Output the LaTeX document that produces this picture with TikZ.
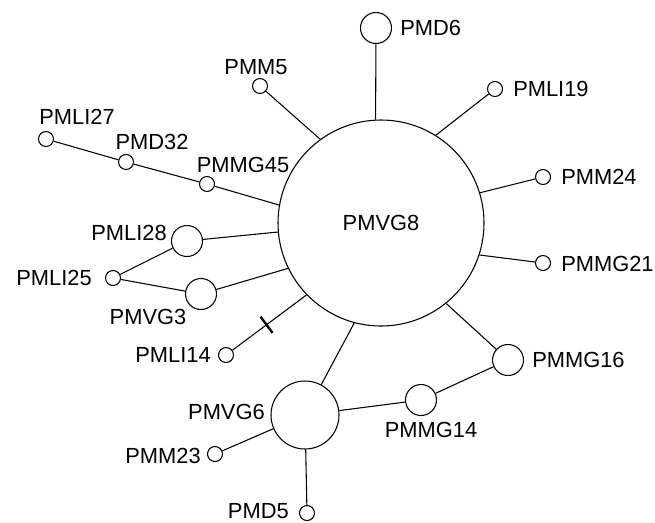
\documentclass[tikz,border=0pt]{standalone}
\usepackage{fontspec}
\setmainfont{Liberation Sans}
\begin{document}
\begin{tikzpicture}[x=0.75pt,y=-0.75pt,
  every node/.style={inner sep=0pt},
  hap/.style={circle,draw,line width=0.8pt,fill=white},
  small/.style={hap,minimum size=11.25pt},
  mid/.style={hap,minimum size=23.25pt},
  lbl/.style={font=\fontsize{16.4}{20}\selectfont},
  link/.style={line width=0.8pt}]
\useasboundingbox (0,0) rectangle (655,522);
% haplotype circles
\node[hap,minimum size=154.5pt] (PMVG8) at (381,223) {};
\node[mid] (PMD6) at (376,28) {};
\node[small] (PMLI19) at (495,89) {};
\node[small] (PMM24) at (543,177) {};
\node[small] (PMMG21) at (543,263) {};
\node[mid] (PMMG16) at (508,360) {};
\node[mid] (PMMG14) at (421,400) {};
\node[hap,minimum size=51pt] (PMVG6) at (305,415) {};
\node[small] (PMM23) at (215,454) {};
\node[small] (PMD5) at (307,513) {};
\node[small] (PMLI14) at (226,355) {};
\node[mid] (PMVG3) at (201,294) {};
\node[small] (PMLI25) at (113,278) {};
\node[mid] (PMLI28) at (187,241) {};
\node[small] (PMMG45) at (207,184) {};
\node[small] (PMD32) at (126,162) {};
\node[small] (PMLI27) at (46,139) {};
\node[small] (PMM5) at (260,86) {};
% connectors
\draw[link] (PMVG8.93) -- (PMD6);
\draw[link] (PMVG8.58.5) -- (PMLI19);
\draw[link] (PMVG8.17) -- (PMM24);
\draw[link] (PMVG8.-18.8) -- (PMMG21);
\draw[link] (PMVG8.-51.3) -- (PMMG16);
\draw[link] (PMVG8.-105) -- (PMVG6);
\draw[link] (PMVG8.224.2) -- node[pos=0.54,sloped,fill=black,minimum width=1.8pt,minimum height=15pt]{} (PMLI14);
\draw[link] (PMVG8.206) -- (PMVG3);
\draw[link] (PMVG8.185.5) -- (PMLI28);
\draw[link] (PMVG8.170) -- (PMMG45);
\draw[link] (PMVG8.126) -- (PMM5);
\draw[link] (PMMG45) -- (PMD32);
\draw[link] (PMD32) -- (PMLI27);
\draw[link] (PMLI28) -- (PMLI25);
\draw[link] (PMLI25) -- (PMVG3);
\draw[link] (PMVG6) -- (PMMG14);
\draw[link] (PMMG14) -- (PMMG16);
\draw[link] (PMVG6) -- (PMM23);
\draw[link] (PMVG6) -- (PMD5);
% labels
\node[lbl] (tPMVG8) at (381,223) {PMVG8};
\node[lbl,anchor=west] (tPMD6) at (400,28) {PMD6};
\node[lbl,anchor=west] (tPMLI19) at (513,89) {PMLI19};
\node[lbl,anchor=west] (tPMM24) at (561,177) {PMM24};
\node[lbl,anchor=west] (tPMMG21) at (561,264) {PMMG21};
\node[lbl,anchor=west] (tPMMG16) at (532,360) {PMMG16};
\node[lbl] (tPMMG14) at (431,430) {PMMG14};
\node[lbl,anchor=east] (tPMVG6) at (265,412) {PMVG6};
\node[lbl,anchor=east] (tPMM23) at (201,456) {PMM23};
\node[lbl,anchor=east] (tPMD5) at (289,511) {PMD5};
\node[lbl,anchor=east] (tPMLI14) at (211,355) {PMLI14};
\node[lbl] (tPMVG3) at (148,317) {PMVG3};
\node[lbl,anchor=east] (tPMLI25) at (92,278) {PMLI25};
\node[lbl] (tPMLI28) at (129,233) {PMLI28};
\node[lbl] (tPMMG45) at (243,165) {PMMG45};
\node[lbl] (tPMD32) at (152,142) {PMD32};
\node[lbl] (tPMLI27) at (77,117) {PMLI27};
\node[lbl] (tPMM5) at (256,67) {PMM5};
\end{tikzpicture}
\end{document}
